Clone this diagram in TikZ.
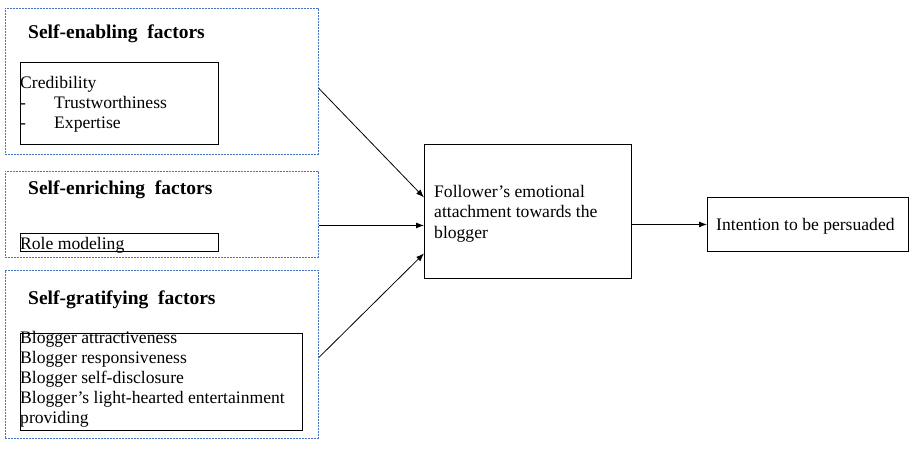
\documentclass[tikz,border=0pt]{standalone}
\usepackage{fontspec}
\setmainfont{Liberation Serif}
\usetikzlibrary{arrows.meta}
\definecolor{groupblue}{RGB}{68,114,196}
\begin{document}
\begin{tikzpicture}[x=1pt,y=-1pt,
  group/.style={draw=groupblue, line width=0.9pt, dash pattern=on 2pt off 1pt, inner sep=0pt, anchor=north west},
  item/.style={draw=black, line width=0.9pt, inner sep=0pt, anchor=north west},
  heading/.style={font=\fontsize{19.5}{22}\selectfont\bfseries, anchor=base west, inner sep=0pt},
  body/.style={font=\fontsize{17.6}{20}\selectfont, anchor=base west, inner sep=0pt},
  link/.style={line width=0.8pt, -{Latex[length=8pt,width=6pt]}}]
\useasboundingbox (0,0) rectangle (910,449);

% three factor groups
\node[group, minimum width=313pt, minimum height=146pt] (g1) at (5,8) {};
\node[group, minimum width=313pt, minimum height=86pt]  (g2) at (5,171) {};
\node[group, minimum width=313pt, minimum height=168pt] (g3) at (5,270) {};

% inner item boxes
\node[item, minimum width=198pt, minimum height=82pt] (i1) at (20,62) {};
\node[item, minimum width=198pt, minimum height=18pt] (i2) at (20,233) {};
\node[item, minimum width=282pt, minimum height=97pt] (i3) at (20,333) {};

% headings
\node[heading] (h1) at (28,39) {Self-enabling\ \ factors};
\node[heading] (h2) at (28,195) {Self-enriching\ \ factors};
\node[heading] (h3) at (28,304) {Self-gratifying\ \ factors};

% group contents
\node[body] (c1) at (20,89) {Credibility};
\node[body] (c2a) at (20,109) {-};
\node[body] (c2) at (54,109) {Trustworthiness};
\node[body] (c3a) at (20,129) {-};
\node[body] (c3) at (54,129) {Expertise};

\node[body] (r1) at (20,249) {Role modeling};

\node[body] (b1) at (20,343) {Blogger attractiveness};
\node[body] (b2) at (20,363) {Blogger responsiveness};
\node[body] (b3) at (20,383) {Blogger self-disclosure};
\node[body] (b4) at (20,403) {Blogger’s light-hearted entertainment};
\node[body] (b5) at (20,423) {providing};

% mediator and outcome
\node[item, minimum width=207pt, minimum height=134pt] (med) at (424,144) {};
\node[body] (m1) at (434,198) {Follower’s emotional};
\node[body] (m2) at (434,218) {attachment towards the};
\node[body] (m3) at (434,238) {blogger};

\node[item, minimum width=201pt, minimum height=54pt] (out) at (707,197) {};
\node[body] (o1) at (716,230) {Intention to be persuaded};

% connectors
\draw[link] ([yshift=-7pt]g1.east) -- ([yshift=14pt]med.west);
\draw[link] ([yshift=-11pt]g2.east) -- ([yshift=-14pt]med.west);
\draw[link] ([yshift=-3pt]g3.east) -- ([yshift=-42pt]med.west);
\draw[link] (med.east |- out.west) -- (out.west);
\end{tikzpicture}
\end{document}
